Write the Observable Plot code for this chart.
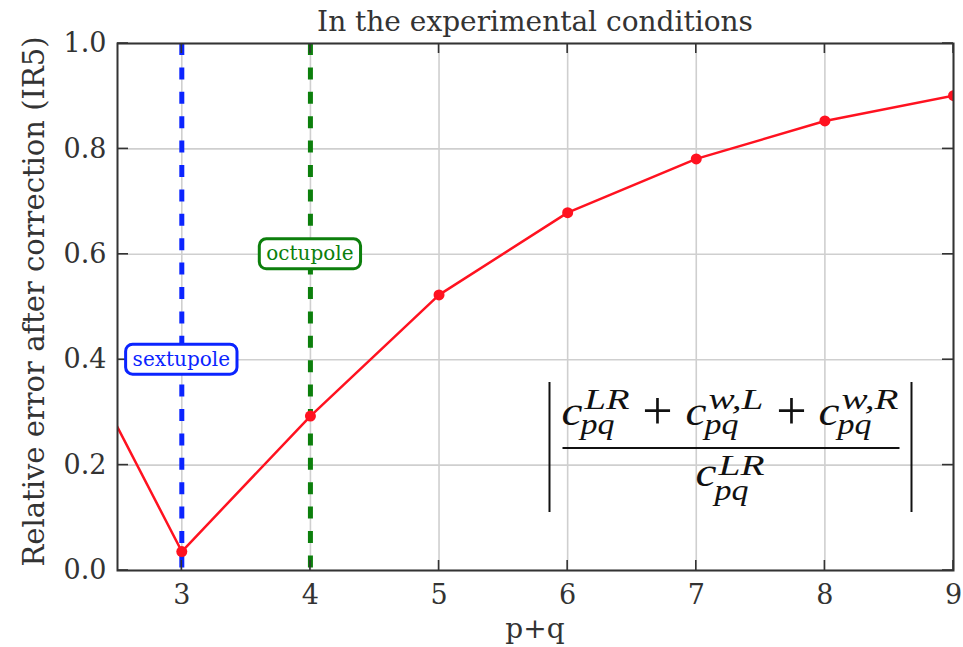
<!DOCTYPE html>
<html><head><meta charset="utf-8">
<script src="https://cdn.jsdelivr.net/npm/d3@7"></script>
<script src="https://cdn.jsdelivr.net/npm/@observablehq/plot@0.6"></script>
<style>html,body{margin:0;padding:0;background:#fff;} #chart svg{display:block;}</style>
</head><body><div id="chart"></div>
<script>
// ---- data ----
const pq = [2, 3, 4, 5, 6, 7, 8, 9];
const relErr = [0.508, 0.036, 0.293, 0.523, 0.679, 0.781, 0.853, 0.901];
const xTicks = [3, 4, 5, 6, 7, 8, 9];
const yTicks = [0, 0.2, 0.4, 0.6, 0.8, 1.0];
const multipoleOrder = [3, 4];
const multipoleNames = ["sextupole", "octupole"];
const multipoleLabelY = [0.4, 0.6];
const titleText = "In the experimental conditions";
const xLabelText = "p+q";
const yLabelText = "Relative error after correction (IR5)";

// ---- style ----
const SERIF = "'DejaVu Serif', serif";
const MATH = "'Liberation Serif', serif";
const BLUE = "#0b24ff", GREEN = "#0c7f0c", RED = "#ff1220", INK = "#333333";
const W = 963, H = 647, mL = 117, mR = 10, mT = 43, mB = 77;
const multipoleColors = [BLUE, GREEN];

const points = pq.map((x, i) => ({x, y: relErr[i]}));

const plot = Plot.plot({
  width: W, height: H,
  marginLeft: mL, marginRight: mR, marginTop: mT, marginBottom: mB,
  style: {fontFamily: SERIF, fontSize: "27px", color: INK, background: "#fff", overflow: "visible"},
  x: {domain: [2.5, 9]},
  y: {domain: [0, 1]},
  marks: [
    Plot.gridX(xTicks, {stroke: "#cfcfcf", strokeOpacity: 1, strokeWidth: 1.6}),
    Plot.gridY(yTicks, {stroke: "#cfcfcf", strokeOpacity: 1, strokeWidth: 1.6}),
    Plot.ruleX([multipoleOrder[0]], {stroke: BLUE, strokeWidth: 5, strokeDasharray: "12,12.4"}),
    Plot.ruleX([multipoleOrder[1]], {stroke: GREEN, strokeWidth: 5, strokeDasharray: "12,12.4"}),
    Plot.line(points, {x: "x", y: "y", stroke: RED, strokeWidth: 2.5, clip: true}),
    Plot.dot(points, {x: "x", y: "y", r: 5.5, fill: RED, stroke: "none", clip: true}),
    Plot.axisX(xTicks, {tickSize: 0, tickPadding: 14, label: null, fill: INK, fontSize: 27, tickFormat: d3.format("d")}),
    Plot.axisY(yTicks, {tickSize: 0, tickPadding: 11, label: null, fill: INK, fontSize: 27, tickFormat: d3.format(".1f")}),
    Plot.frame({stroke: INK, strokeWidth: 2})
  ]
});
document.getElementById("chart").appendChild(plot);

const xs = plot.scale("x"), ys = plot.scale("y");
const svg = d3.select(plot);
const x0 = xs.range[0], x1 = xs.range[1], yb = ys.range[0], yt = ys.range[1];

// inward ticks on all four sides
const tk = svg.append("g").attr("stroke", INK).attr("stroke-width", 1.6);
xTicks.forEach(t => {
  const px = xs.apply(t);
  tk.append("line").attr("x1", px).attr("x2", px).attr("y1", yb).attr("y2", yb - 10);
  tk.append("line").attr("x1", px).attr("x2", px).attr("y1", yt).attr("y2", yt + 10);
});
yTicks.forEach(t => {
  const py = ys.apply(t);
  tk.append("line").attr("x1", x0).attr("x2", x0 + 11).attr("y1", py).attr("y2", py);
  tk.append("line").attr("x1", x1).attr("x2", x1 - 11).attr("y1", py).attr("y2", py);
});

// title and axis labels
const cx = (x0 + x1) / 2, cy = (yb + yt) / 2;
svg.append("text").attr("x", cx).attr("y", 31).attr("text-anchor", "middle")
  .attr("font-family", SERIF).attr("font-size", 28).attr("fill", INK).text(titleText);
svg.append("text").attr("x", cx).attr("y", 638).attr("text-anchor", "middle")
  .attr("font-family", SERIF).attr("font-size", 28).attr("fill", INK).text(xLabelText);
svg.append("text").attr("transform", `translate(44,${cy - 5}) rotate(-90)`).attr("text-anchor", "middle")
  .attr("font-family", SERIF).attr("font-size", 29).attr("fill", INK).text(yLabelText);

// boxed multipole labels
multipoleNames.forEach((name, i) => {
  const g = svg.append("g").attr("transform", `translate(${xs.apply(multipoleOrder[i])},${ys.apply(multipoleLabelY[i])})`);
  const rect = g.append("rect");
  const t = g.append("text").attr("text-anchor", "middle").attr("dy", "0.33em")
    .attr("font-family", SERIF).attr("font-size", 20).attr("fill", multipoleColors[i]).text(name);
  const bb = t.node().getBBox();
  rect.attr("x", bb.x - 7).attr("y", -15).attr("width", bb.width + 14).attr("height", 30)
    .attr("rx", 7).attr("ry", 7).attr("fill", "#fff").attr("stroke", multipoleColors[i]).attr("stroke-width", 3);
});

// formula |(c^LR_pq + c^{w,L}_pq + c^{w,R}_pq) / c^LR_pq|
const ax = xs.apply(7.27), ay = ys.apply(0.2315);
const f = svg.append("g").attr("transform", `translate(${ax},${ay})`)
  .attr("font-family", MATH).attr("fill", "#111").attr("text-anchor", "start");
f.append("line").attr("x1", -181).attr("x2", -181).attr("y1", -66).attr("y2", 64).attr("stroke", "#111").attr("stroke-width", 2);
f.append("line").attr("x1", 181).attr("x2", 181).attr("y1", -66).attr("y2", 64).attr("stroke", "#111").attr("stroke-width", 2);
f.append("line").attr("x1", -168).attr("x2", 169).attr("y1", 0).attr("y2", 0).attr("stroke", "#111").attr("stroke-width", 2);

function term(cxp, base, supTxt, supW, supBase, subBase) {
  f.append("text").attr("x", cxp).attr("y", base).attr("font-size", 40).attr("font-style", "italic")
    .attr("textLength", 21).attr("lengthAdjust", "spacingAndGlyphs").text("c");
  f.append("text").attr("x", cxp + 23).attr("y", supBase).attr("font-size", 29).attr("font-style", "italic")
    .attr("textLength", supW).attr("lengthAdjust", "spacingAndGlyphs").text(supTxt);
  f.append("text").attr("x", cxp + 19).attr("y", subBase).attr("font-size", 29).attr("font-style", "italic")
    .attr("textLength", 34).attr("lengthAdjust", "spacingAndGlyphs").text("pq");
}
term(-169, -23, "LR", 45, -39, -14);
term(-45, -23, "w,L", 55, -39, -14);
term(88, -23, "w,R", 57, -39, -14);
[-73, 61].forEach(px => {
  f.append("text").attr("x", px).attr("y", -19).attr("text-anchor", "middle").attr("font-size", 54).text("+");
});
term(-35, 38, "LR", 46, 27, 52);
</script>
</body></html>
